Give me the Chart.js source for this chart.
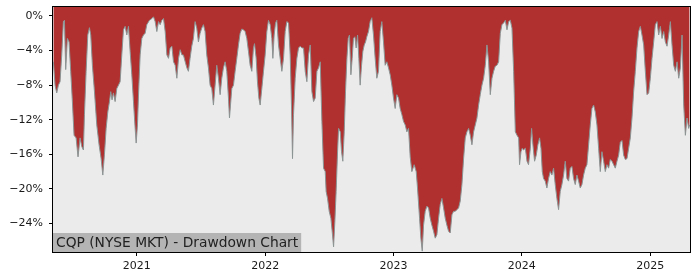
<!DOCTYPE html>
<html>
<head>
<meta charset="utf-8">
<script src="https://cdn.jsdelivr.net/npm/chart.js@4.4.1/dist/chart.umd.min.js"></script>
<style>
html, body { margin: 0; padding: 0; background: #fff; }
#wrap { width: 700px; height: 280px; }
</style>
</head>
<body>
<div id="wrap"><canvas id="ddChart" width="700" height="280"></canvas></div>
<script>
// dates as decimal years, drawdown in %
const dates2020 = [2020.350, 2020.363, 2020.376, 2020.389, 2020.402, 2020.415, 2020.428, 2020.436, 2020.446, 2020.459,
  2020.472, 2020.485, 2020.498, 2020.511, 2020.527, 2020.542, 2020.558, 2020.571, 2020.584, 2020.592,
  2020.605, 2020.618, 2020.631, 2020.641, 2020.654, 2020.670, 2020.688, 2020.706, 2020.722, 2020.735,
  2020.748, 2020.761, 2020.774, 2020.787, 2020.797, 2020.807, 2020.818, 2020.831, 2020.844, 2020.857,
  2020.870, 2020.883, 2020.896, 2020.909, 2020.922, 2020.935, 2020.948, 2020.961, 2020.974, 2020.987, 2020.995];
const dd2020 = [-5.3, -8.0, -8.9, -8.0, -7.6, -4.5, -0.65, -0.5, -6.2, -2.6,
  -3.0, -6.4, -9.9, -13.8, -14.1, -16.3, -14.1, -15.1, -15.5, -11.4,
  -6.4, -2.2, -1.35, -2.2, -5.7, -8.75, -12.6, -14.9, -16.5, -18.4,
  -16.0, -13.0, -11.1, -9.9, -8.75, -9.7, -8.9, -9.9, -8.4, -8.0,
  -7.6, -4.5, -1.6, -1.2, -2.2, -1.2, -4.1, -6.8, -9.9, -13.0, -14.7];

const dates2021 = [2021.005, 2021.015, 2021.026, 2021.039, 2021.052, 2021.065, 2021.078, 2021.098, 2021.117, 2021.130,
  2021.143, 2021.156, 2021.169, 2021.182, 2021.195, 2021.208, 2021.221, 2021.234, 2021.247, 2021.260,
  2021.273, 2021.286, 2021.299, 2021.312, 2021.325, 2021.338, 2021.351, 2021.363, 2021.377, 2021.390,
  2021.402, 2021.415, 2021.428, 2021.441, 2021.454, 2021.467, 2021.480, 2021.493, 2021.506, 2021.519,
  2021.532, 2021.545, 2021.558, 2021.571, 2021.584, 2021.597, 2021.610, 2021.623, 2021.636, 2021.649,
  2021.662, 2021.675, 2021.688, 2021.701, 2021.714, 2021.722, 2021.740, 2021.753, 2021.766, 2021.779,
  2021.792, 2021.805, 2021.818, 2021.831, 2021.844, 2021.857, 2021.870, 2021.883, 2021.896, 2021.909,
  2021.917, 2021.930, 2021.940, 2021.951, 2021.961, 2021.974, 2021.987];
const dd2021 = [-12.6, -8.4, -4.5, -2.6, -2.2, -2.0, -1.0, -0.5, -0.3, -0.1,
  -0.65, -1.8, -0.65, -1.0, -0.5, -0.3, -1.8, -4.5, -4.9, -3.7,
  -3.5, -5.3, -5.7, -7.2, -4.9, -3.9, -4.5, -4.5, -5.3, -6.0,
  -6.4, -4.9, -3.5, -2.6, -0.65, -1.4, -3.0, -2.0, -1.4, -1.0,
  -1.8, -4.5, -6.0, -8.0, -8.4, -10.3, -8.0, -5.7, -7.2, -9.1,
  -7.2, -6.0, -5.3, -6.4, -9.5, -11.8, -8.4, -8.0, -6.4, -4.9,
  -3.35, -2.0, -1.5, -1.6, -1.8, -2.6, -4.1, -5.7, -6.4, -3.7,
  -3.2, -4.9, -7.6, -9.5, -10.3, -8.4, -6.4];

const dates2022 = [2022.000, 2022.013, 2022.026, 2022.039, 2022.052, 2022.060, 2022.070, 2022.081, 2022.091, 2022.104,
  2022.117, 2022.130, 2022.143, 2022.156, 2022.169, 2022.182, 2022.195, 2022.205, 2022.213, 2022.221,
  2022.234, 2022.247, 2022.260, 2022.273, 2022.286, 2022.299, 2022.312, 2022.325, 2022.338, 2022.351,
  2022.364, 2022.377, 2022.390, 2022.403, 2022.416, 2022.429, 2022.442, 2022.455, 2022.468, 2022.475,
  2022.486, 2022.499, 2022.512, 2022.522, 2022.533, 2022.543, 2022.553, 2022.564, 2022.572, 2022.585,
  2022.595, 2022.605, 2022.616, 2022.626, 2022.637, 2022.647, 2022.657, 2022.668, 2022.678, 2022.688,
  2022.699, 2022.709, 2022.720, 2022.730, 2022.740, 2022.751, 2022.761, 2022.772, 2022.782, 2022.792,
  2022.805, 2022.818, 2022.831, 2022.844, 2022.857, 2022.870, 2022.883, 2022.896, 2022.909, 2022.922,
  2022.935, 2022.948, 2022.961, 2022.974, 2022.987];
const dd2022 = [-4.5, -1.8, -0.5, -1.0, -2.6, -4.9, -2.2, -0.8, -0.5, -3.35,
  -4.9, -6.4, -4.9, -1.8, -0.65, -0.8, -4.5, -10.3, -16.5, -11.4,
  -7.2, -4.9, -3.7, -3.5, -3.7, -3.7, -6.4, -7.6, -4.5, -3.35,
  -8.75, -9.9, -9.5, -6.4, -6.0, -5.3, -12.2, -17.6, -18.0, -20.3,
  -21.1, -22.6, -23.4, -24.9, -26.7, -23.8, -20.3, -15.7, -13.0, -13.4,
  -15.7, -16.8, -13.4, -8.75, -4.9, -2.6, -2.2, -6.8, -4.9, -2.6,
  -2.4, -3.7, -2.2, -4.9, -8.0, -5.7, -4.1, -3.35, -3.0, -2.4,
  -1.8, -0.65, -0.2, -2.2, -4.9, -7.2, -6.4, -1.8, -0.65, -3.0,
  -5.7, -5.3, -6.0, -6.8, -8.0];

const dates2023 = [2023.000, 2023.013, 2023.026, 2023.039, 2023.052, 2023.065, 2023.078, 2023.091, 2023.104, 2023.117,
  2023.130, 2023.143, 2023.161, 2023.177, 2023.187, 2023.203, 2023.213, 2023.224, 2023.234, 2023.247,
  2023.260, 2023.273, 2023.286, 2023.299, 2023.312, 2023.325, 2023.338, 2023.351, 2023.364, 2023.377,
  2023.390, 2023.403, 2023.416, 2023.429, 2023.442, 2023.455, 2023.468, 2023.481, 2023.494, 2023.507,
  2023.520, 2023.533, 2023.546, 2023.559, 2023.572, 2023.585, 2023.598, 2023.611, 2023.624, 2023.637,
  2023.650, 2023.663, 2023.676, 2023.689, 2023.702, 2023.715, 2023.728, 2023.741, 2023.754, 2023.767,
  2023.780, 2023.793, 2023.806, 2023.819, 2023.832, 2023.845, 2023.858, 2023.871, 2023.884, 2023.897,
  2023.910, 2023.923, 2023.936, 2023.949, 2023.962, 2023.975, 2023.982, 2023.993];
const dd2023 = [-9.5, -10.7, -9.1, -9.5, -10.7, -11.4, -12.2, -12.6, -13.4, -13.0,
  -16.3, -18.0, -17.2, -18.0, -19.9, -23.4, -25.7, -27.2, -24.2, -22.6,
  -22.0, -22.2, -23.4, -24.2, -24.9, -25.7, -25.3, -23.4, -21.8, -21.1,
  -22.2, -23.4, -24.2, -24.9, -25.1, -23.0, -22.6, -22.6, -22.4, -22.2,
  -21.4, -19.5, -16.5, -14.1, -13.4, -13.0, -13.8, -14.9, -13.4, -12.6,
  -11.8, -10.3, -9.1, -8.0, -7.2, -5.7, -3.35, -5.3, -9.1, -7.2,
  -6.4, -5.8, -5.7, -5.3, -2.0, -1.0, -0.8, -0.5, -1.6, -0.65,
  -0.5, -1.4, -6.4, -13.4, -13.8, -14.1, -17.2, -15.7];

const dates2024 = [2024.003, 2024.013, 2024.027, 2024.040, 2024.052, 2024.066, 2024.076, 2024.086, 2024.099, 2024.112,
  2024.125, 2024.138, 2024.149, 2024.159, 2024.169, 2024.182, 2024.195, 2024.208, 2024.221, 2024.234,
  2024.247, 2024.260, 2024.273, 2024.286, 2024.299, 2024.312, 2024.325, 2024.338, 2024.351, 2024.364,
  2024.377, 2024.390, 2024.403, 2024.416, 2024.429, 2024.442, 2024.455, 2024.468, 2024.481, 2024.494,
  2024.507, 2024.520, 2024.533, 2024.546, 2024.559, 2024.572, 2024.585, 2024.598, 2024.611, 2024.624,
  2024.637, 2024.650, 2024.663, 2024.676, 2024.689, 2024.702, 2024.715, 2024.728, 2024.741, 2024.754,
  2024.767, 2024.780, 2024.793, 2024.806, 2024.819, 2024.832, 2024.845, 2024.858, 2024.871, 2024.884,
  2024.897, 2024.910, 2024.923, 2024.936, 2024.949, 2024.962, 2024.975, 2024.988];
const dd2024 = [-15.3, -15.5, -15.3, -16.8, -17.2, -15.3, -13.0, -14.9, -16.8, -16.1,
  -14.9, -14.1, -15.3, -18.0, -18.8, -19.1, -19.9, -18.8, -18.0, -18.4,
  -17.6, -19.5, -21.1, -22.4, -20.3, -19.5, -18.4, -16.8, -18.8, -19.1,
  -17.6, -17.4, -18.8, -19.5, -18.4, -19.1, -19.9, -19.5, -18.4, -17.6,
  -17.2, -14.9, -12.6, -10.7, -10.3, -11.1, -12.6, -15.3, -18.0, -15.7,
  -16.8, -18.0, -17.2, -17.6, -16.6, -16.8, -17.2, -17.6, -16.8, -16.1,
  -14.6, -14.4, -16.1, -16.6, -16.5, -15.3, -14.1, -11.8, -8.75, -6.4,
  -3.7, -1.8, -1.2, -2.2, -3.35, -6.4, -9.1, -8.9];

const dates2025 = [2025.001, 2025.014, 2025.027, 2025.040, 2025.053, 2025.066, 2025.079, 2025.092, 2025.105, 2025.118,
  2025.131, 2025.144, 2025.157, 2025.170, 2025.183, 2025.196, 2025.209, 2025.222, 2025.235, 2025.248,
  2025.261, 2025.274, 2025.287, 2025.300, 2025.307];
const dd2025 = [-7.2, -4.9, -3.0, -1.0, -0.65, -2.2, -1.2, -2.6, -1.8, -3.0,
  -3.5, -2.2, -0.65, -3.35, -5.7, -6.4, -5.3, -7.2, -6.0, -2.2,
  -10.3, -13.8, -11.8, -13.0, -12.6];

const yearTicks = [2021, 2022, 2023, 2024, 2025];
const pctTicks = [-24, -20, -16, -12, -8, -4, 0];
const chartTitle = 'CQP (NYSE MKT) - Drawdown Chart';

const dates = [].concat(dates2020, dates2021, dates2022, dates2023, dates2024, dates2025);
const drawdown = [].concat(dd2020, dd2021, dd2022, dd2023, dd2024, dd2025);
const points = dates.map((d, i) => ({ x: d, y: drawdown[i] }));

const fontFamily = '"DejaVu Sans", sans-serif';

// grey plot background
const plotBg = {
  id: 'plotBg',
  beforeDraw(chart) {
    const a = chart.chartArea;
    const ctx = chart.ctx;
    ctx.save();
    ctx.fillStyle = '#ebebeb';
    ctx.fillRect(a.left, a.top, a.right - a.left, a.bottom - a.top);
    ctx.restore();
  }
};

// frame + title box in the lower left corner
const frameAndTitle = {
  id: 'frameAndTitle',
  afterDraw(chart) {
    const a = chart.chartArea;
    const ctx = chart.ctx;
    ctx.save();
    ctx.font = '13.8px ' + fontFamily;
    const w = ctx.measureText(chartTitle).width;
    ctx.fillStyle = '#b4b4b4';
    ctx.fillRect(a.left, a.bottom - 19, w + 6, 19);
    ctx.fillStyle = '#222';
    ctx.textBaseline = 'alphabetic';
    ctx.fillText(chartTitle, a.left + 3, a.bottom - 5);
    ctx.strokeStyle = '#000';
    ctx.lineWidth = 1;
    ctx.strokeRect(a.left - 0.5, a.top - 0.5, a.right - a.left + 1, a.bottom - a.top + 1);
    ctx.restore();
  }
};

// keep the plot box where it is, no extra room for edge labels
const noEdgePad = s => { s.paddingTop = 0; s.paddingBottom = 0; s.paddingLeft = 0; s.paddingRight = 0; };

new Chart(document.getElementById('ddChart'), {
  type: 'line',
  data: {
    datasets: [{
      data: points,
      borderColor: '#8c9494',
      borderWidth: 1,
      backgroundColor: '#b03030',
      fill: 'end',
      pointRadius: 0,
      tension: 0
    }]
  },
  options: {
    responsive: false,
    animation: false,
    devicePixelRatio: 1,
    layout: { padding: { left: 0, right: 10, top: 7, bottom: 0 } },
    plugins: { legend: { display: false }, tooltip: { enabled: false } },
    scales: {
      x: {
        type: 'linear',
        min: 2020.347,
        max: 2025.310,
        afterBuildTicks: s => { s.ticks = yearTicks.map(v => ({ value: v })); },
        afterFit: s => { s.height = 28; noEdgePad(s); },
        grid: { drawOnChartArea: false, drawTicks: true, tickLength: 4, tickColor: '#000' },
        border: { display: false },
        ticks: {
          font: { family: fontFamily, size: 11 },
          color: '#1a1a1a',
          padding: 4,
          maxRotation: 0,
          autoSkip: false,
          callback: v => String(v)
        }
      },
      y: {
        min: -27.3,
        max: 1.04,
        afterBuildTicks: s => { s.ticks = pctTicks.map(v => ({ value: v })); },
        afterFit: s => { s.width = 53; noEdgePad(s); },
        grid: { drawOnChartArea: false, drawTicks: true, tickLength: 4, tickColor: '#000' },
        border: { display: false },
        ticks: {
          font: { family: fontFamily, size: 11 },
          color: '#1a1a1a',
          padding: 6,
          callback: v => (v < 0 ? '\u2212' + Math.abs(v) : String(v)) + '%'
        }
      }
    }
  },
  plugins: [plotBg, frameAndTitle]
});
</script>
</body>
</html>
